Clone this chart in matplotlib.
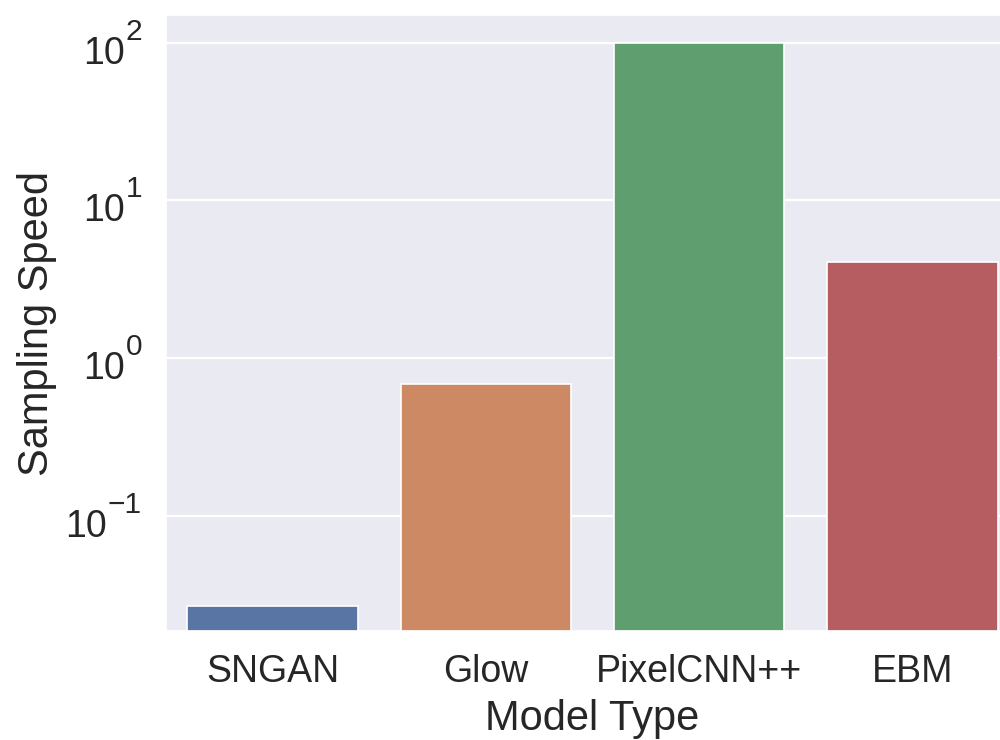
import matplotlib
matplotlib.use("Agg")
import matplotlib.pyplot as plt
import seaborn as sns

# data
models = ["SNGAN", "Glow", "PixelCNN++", "EBM"]
speed = [0.027, 0.69, 100.0, 4.05]
ytick_exp = [-1, 0, 1, 2]

sns.set_theme(style="darkgrid")
plt.rcParams['font.family'] = ['Liberation Sans', 'DejaVu Sans']

colors = [sns.desaturate(c, 0.75) for c in sns.color_palette("deep", 4)]
txt_color = "#262626"
PT = 0.72  # points per pixel at dpi 100

fig = plt.figure(figsize=(10, 7.4), dpi=100)
# axes runs off the right edge like the cropped original
ax = fig.add_axes([0.166, 0.1473, 0.853, 0.8324])

x = list(range(len(models)))
ax.bar(x, speed, width=0.8, color=colors, edgecolor="white", linewidth=1.2)
ax.set_yscale("log")
ax.set_ylim(0.01867, 149.6)
ax.set_xlim(-0.5, 3.5)
ax.set_xticks(x)
ax.set_xticklabels(models)
ax.set_yticks([10.0 ** e for e in ytick_exp])
ax.set_yticklabels([])
ax.minorticks_off()
ax.grid(False, axis="x")
ax.grid(True, axis="y", which="major", color="white", linewidth=1.6)

ax.tick_params(axis="x", labelsize=27, length=0, pad=16.9, labelcolor=txt_color)
ax.tick_params(axis="y", length=0)

ax.set_xlabel("Model Type", fontsize=30, color=txt_color)
ax.set_ylabel("Sampling Speed", fontsize=30, color=txt_color)
ax.xaxis.set_label_coords(0.5, -0.111)
ax.yaxis.set_label_coords(-0.1274, 0.5)

# old-style log tick labels: big "10" with a raised exponent
exp_texts = []
for e in ytick_exp:
    t = ax.annotate(str(e).replace("-", "\u2212"), xy=(0, 10.0 ** e),
                    xycoords=("axes fraction", "data"),
                    xytext=(-24 * PT, 3 * PT), textcoords="offset points",
                    ha="right", va="baseline", fontsize=21.5, color=txt_color,
                    annotation_clip=False)
    exp_texts.append(t)

fig.canvas.draw()
r = fig.canvas.get_renderer()
ax_left = ax.get_window_extent(r).x0
for e, t in zip(ytick_exp, exp_texts):
    bb = t.get_window_extent(r)
    off = (bb.x0 - ax_left - 1) * PT
    ax.annotate("10", xy=(0, 10.0 ** e), xycoords=("axes fraction", "data"),
                xytext=(off, -21 * PT), textcoords="offset points",
                ha="right", va="baseline", fontsize=27, color=txt_color,
                annotation_clip=False)

fig.savefig("out.png", dpi=100)
